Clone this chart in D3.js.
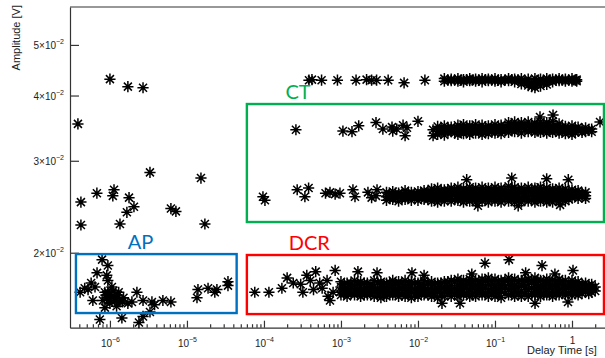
<!DOCTYPE html>
<html>
<head>
<meta charset="utf-8">
<script src="https://cdn.jsdelivr.net/npm/d3@7"></script>
<style>
  body { margin: 0; background: #fff; }
  svg { display: block; }
</style>
</head>
<body>
<div class="chart"></div>
<script>
// each row: [delay time (s), amplitude (V), amplitude, ...]
var sparsePts = [[1.0e-6,0.0430],[1.71e-6,0.0416],[2.69e-6,0.0414],[3.84e-7,0.0353],[3.31e-6,0.0285],
  [1.52e-5,0.0278],[6.77e-7,0.0260],[1.13e-6,0.0264],[1.09e-6,0.0257],[4.2e-7,0.0250],[1.77e-6,0.0255],
  [2.05e-6,0.0245],[1.66e-6,0.0239],[6.19e-6,0.0243],[7.19e-6,0.0240],[4.2e-7,0.0226],[1.35e-6,0.0227],
  [1.71e-5,0.0227]];

var apPts = [[7.9e-7,0.0194],[9.4e-7,0.0189],[6.8e-7,0.0183],[9.1e-7,0.0181],[5.7e-7,0.0175],[4.7e-7,0.0171],
  [4.1e-7,0.0168],[6.4e-7,0.0172],[1.06e-6,0.0172],[8.6e-7,0.0168],[9.1e-7,0.0164],[1.06e-6,0.0165],
  [1.16e-6,0.0162],[6.0e-7,0.0162],[1.35e-6,0.0161],[1.71e-6,0.0160],[2.24e-6,0.0168],[2.69e-6,0.0162],
  [1.93e-6,0.0161],[3.51e-6,0.0161],[4.87e-6,0.0162],[6.19e-6,0.0161],[8.6e-7,0.0157],[3.31e-6,0.0154],
  [2.69e-6,0.0151],[7.4e-7,0.0149],[1.43e-6,0.0150],[2.38e-6,0.0147],[1.35e-5,0.0164],[1.39e-5,0.0170],
  [1.88e-5,0.0171],[2.45e-5,0.0170],[3.41e-5,0.0176],[3.41e-5,0.0173],[9.4e-7,0.0168],[1.0e-6,0.0166],
  [1.27e-6,0.0166],[8.1e-7,0.0162],[1.0e-6,0.0160],[1.22e-6,0.0158],[1.5e-6,0.0164],[9.4e-7,0.0177],
  [5.2e-7,0.0170],[3.8e-6,0.0159],[2.3e-5,0.0168],[1.1e-6,0.0169],[1.2e-6,0.0163],[9.8e-7,0.0162],
  [1.3e-6,0.0168],[1.45e-6,0.0161],[8.9e-7,0.0166]];

var topBand = [[3.84e-4,0.0428],[4.2e-4,0.0429],[5.6e-4,0.0428],[9.0e-4,0.0428],[1.57e-3,0.0428],
  [2.15e-3,0.0429],[2.5e-3,0.0428],[2.9e-3,0.0428],[4.1e-3,0.0428],[6.6e-3,0.0423],[1.23e-2,0.0428],
  [2.2e-2,0.0431,0.0426],[2.7e-2,0.0430,0.0427],[3.3e-2,0.0431,0.0426],[3.9e-2,0.0429,0.0425],
  [4.7e-2,0.0431,0.0427],[5.6e-2,0.0430,0.0426],[6.8e-2,0.0431,0.0425],[8.2e-2,0.0430,0.0427],
  [0.10,0.0431,0.0426],[0.12,0.0429,0.0425],[0.15,0.0431,0.0427],[0.18,0.0430,0.0425],
  [0.22,0.0431,0.0426,0.0421],[0.27,0.0430,0.0424,0.0418],[0.33,0.0431,0.0425,0.0414],
  [0.39,0.0430,0.0424,0.0417],[0.47,0.0431,0.0426,0.0420],[0.56,0.0430,0.0425],[0.68,0.0431,0.0427],
  [0.82,0.0430,0.0426],[1.0,0.0431,0.0426],[1.15,0.0429,0.0426],
  [2.45e-2,0.0428],[3.0e-2,0.0428],[3.6e-2,0.0428],[4.3e-2,0.0429],[5.1e-2,0.0428],[6.2e-2,0.0428],
  [7.5e-2,0.0429],[9.1e-2,0.0428],[0.11,0.0428],[0.135,0.0428],[0.165,0.0429],[0.20,0.0428],
  [0.245,0.0424],[0.30,0.0421,0.0416],[0.36,0.0422],[0.43,0.0424],[0.51,0.0428],[0.62,0.0428],
  [0.75,0.0428],[0.91,0.0428],[1.1,0.0428]];

var ctUpper = [[2.6e-4,0.0344],[1.06e-3,0.0342],[1.39e-3,0.0341],[1.7e-3,0.0350],[2.85e-3,0.0355],
  [3.5e-3,0.0345],[4.6e-3,0.0348],[4.7e-3,0.0342],[5.3e-3,0.0345],[6.4e-3,0.0351],[6.8e-3,0.0335],
  [7.2e-3,0.0347],[1.0e-2,0.0357],[1.57e-2,0.0344],[1.57e-2,0.0335],
  [1.8e-2,0.0349,0.0342,0.0337],[2.2e-2,0.0350,0.0343,0.0336],[2.7e-2,0.0348,0.0341],
  [3.3e-2,0.0351,0.0344,0.0337],[3.9e-2,0.0352,0.0345,0.0338],[4.7e-2,0.0350,0.0343,0.0337],
  [5.6e-2,0.0352,0.0345,0.0339],[6.8e-2,0.0351,0.0344,0.0337],[8.2e-2,0.0350,0.0343,0.0338],
  [0.10,0.0352,0.0345,0.0339],[0.12,0.0351,0.0344,0.0338],[0.15,0.0355,0.0347,0.0340],
  [0.18,0.0356,0.0348,0.0341],[0.22,0.0355,0.0347,0.0339],[0.27,0.0356,0.0349,0.0341],
  [0.33,0.0354,0.0347,0.0340],[0.39,0.0356,0.0348,0.0340],[0.47,0.0355,0.0347,0.0339],
  [0.56,0.0357,0.0348,0.0340],[0.68,0.0353,0.0346,0.0339],[0.82,0.0349,0.0343,0.0338],
  [1.0,0.0350,0.0343,0.0337],[1.2,0.0348,0.0342],[1.5,0.0347,0.0341],[1.8,0.0345,0.0341],
  [0.384,0.0364],[0.567,0.0367],[2.31,0.0356],
  [2.0e-2,0.0346,0.0340],[2.45e-2,0.0347,0.0340],[3.0e-2,0.0346,0.0339],[3.6e-2,0.0348,0.0341],
  [4.3e-2,0.0347,0.0340],[5.1e-2,0.0348,0.0341],[6.2e-2,0.0347,0.0341],[7.5e-2,0.0348,0.0340],
  [9.1e-2,0.0347,0.0341],[0.11,0.0348,0.0341],[0.135,0.0350,0.0343],[0.165,0.0352,0.0344],
  [0.20,0.0351,0.0344],[0.245,0.0352,0.0344],[0.30,0.0351,0.0343],[0.36,0.0352,0.0344],
  [0.43,0.0351,0.0343],[0.51,0.0352,0.0344],[0.62,0.0350,0.0342],[0.75,0.0348,0.0341],
  [0.91,0.0346,0.0340],[1.1,0.0346,0.0340],[1.35,0.0345,0.0340],[1.65,0.0344]];

var ctLower = [[9.7e-5,0.0256],[1.03e-4,0.0252],[2.7e-4,0.0264],[3.8e-4,0.0266],[3.4e-4,0.0256],
  [6.3e-4,0.0260],[7.2e-4,0.0261],[8.4e-4,0.0259],[9.7e-4,0.0260],[1.43e-3,0.0264],[1.52e-3,0.0256],
  [2.24e-3,0.0261],[2.5e-3,0.0255],[2.94e-3,0.0264],[2.85e-3,0.0257],
  [3.9e-3,0.0261,0.0256,0.0252],[4.7e-3,0.0262,0.0257,0.0253],[5.6e-3,0.0260,0.0256,0.0251],
  [6.8e-3,0.0263,0.0258,0.0253],[8.2e-3,0.0261,0.0256,0.0252],[1.0e-2,0.0262,0.0257,0.0252],
  [1.2e-2,0.0263,0.0258,0.0253],[1.5e-2,0.0265,0.0260,0.0255,0.0251],[1.8e-2,0.0266,0.0261,0.0256,0.0250],
  [2.2e-2,0.0264,0.0260,0.0255,0.0251],[2.7e-2,0.0266,0.0261,0.0256,0.0251],[3.3e-2,0.0267,0.0262,0.0257,0.0252],
  [3.9e-2,0.0265,0.0260,0.0255,0.0250],[4.7e-2,0.0267,0.0262,0.0256,0.0251],[5.6e-2,0.0266,0.0261,0.0256,0.0250],
  [6.8e-2,0.0267,0.0262,0.0257,0.0251],[8.2e-2,0.0266,0.0261,0.0255,0.0250],[0.10,0.0267,0.0262,0.0256,0.0251],
  [0.12,0.0266,0.0261,0.0256,0.0250],[0.15,0.0268,0.0262,0.0257,0.0251],[0.18,0.0267,0.0261,0.0256,0.0250],
  [0.22,0.0266,0.0261,0.0255,0.0250],[0.27,0.0267,0.0262,0.0256,0.0251],[0.33,0.0266,0.0261,0.0256,0.0250],
  [0.39,0.0267,0.0262,0.0257,0.0251],[0.47,0.0266,0.0261,0.0256,0.0250],[0.56,0.0265,0.0260,0.0255,0.0250],
  [0.68,0.0266,0.0261,0.0256,0.0251],[0.82,0.0265,0.0260,0.0255,0.0251],[1.0,0.0264,0.0260,0.0255],
  [1.2,0.0263,0.0259,0.0254],[1.5,0.0261,0.0257,0.0254],
  [0.0429,0.0276],[0.165,0.0278],[0.469,0.0277],[0.895,0.0276],[0.06,0.0246],[0.2,0.0246],[0.7,0.0247],
  [4.3e-3,0.0259,0.0254],[5.1e-3,0.0260,0.0255],[6.2e-3,0.0259,0.0254],[7.5e-3,0.0260,0.0255],
  [9.1e-3,0.0259,0.0254],[1.1e-2,0.0260,0.0255],[1.35e-2,0.0262,0.0257,0.0253],[1.65e-2,0.0263,0.0258,0.0253],
  [2.0e-2,0.0263,0.0258,0.0253],[2.45e-2,0.0264,0.0259,0.0254],[3.0e-2,0.0264,0.0259,0.0253],
  [3.6e-2,0.0263,0.0258,0.0253],[4.3e-2,0.0264,0.0259,0.0254],[5.1e-2,0.0264,0.0258,0.0253],
  [6.2e-2,0.0264,0.0259,0.0254],[7.5e-2,0.0263,0.0258,0.0253],[9.1e-2,0.0264,0.0259,0.0254],
  [0.11,0.0264,0.0258,0.0253],[0.135,0.0264,0.0259,0.0254],[0.165,0.0265,0.0259,0.0253],
  [0.20,0.0264,0.0258,0.0253],[0.245,0.0264,0.0259,0.0254],[0.30,0.0264,0.0258,0.0253],
  [0.36,0.0265,0.0259,0.0254],[0.43,0.0264,0.0258,0.0253],[0.51,0.0263,0.0258,0.0253],
  [0.62,0.0264,0.0258,0.0253],[0.75,0.0263,0.0258,0.0253],[0.91,0.0262,0.0257,0.0253],
  [1.1,0.0262,0.0257],[1.35,0.0260,0.0256]];

var dcrBand = [[7.6e-5,0.0168],[1.16e-4,0.0168],[1.71e-4,0.0171],[2.0e-4,0.0179],[2.4e-4,0.0175],
  [3.6e-4,0.0181],[4.7e-4,0.0184],[5.3e-4,0.0175],[6.8e-4,0.0165],[8.4e-4,0.0185],[7.2e-4,0.0162],
  [3.0e-4,0.0174],[4.0e-4,0.0177],[4.4e-4,0.0170],[5.7e-4,0.0171],[6.6e-4,0.0177],[7.9e-4,0.0168],[3.2e-4,0.0168],
  [1.0e-3,0.0176,0.0172,0.0169,0.0166],[1.2e-3,0.0175,0.0171,0.0168,0.0165],[1.5e-3,0.0177,0.0173,0.0169,0.0166],
  [1.8e-3,0.0176,0.0172,0.0168,0.0165],[2.2e-3,0.0175,0.0171,0.0168,0.0166],[2.7e-3,0.0177,0.0172,0.0169,0.0165],
  [3.3e-3,0.0176,0.0172,0.0168,0.0164],[3.9e-3,0.0175,0.0171,0.0168,0.0165],[4.7e-3,0.0177,0.0173,0.0169,0.0166],
  [5.6e-3,0.0176,0.0172,0.0168,0.0165],[6.8e-3,0.0177,0.0172,0.0169,0.0165],[8.2e-3,0.0176,0.0172,0.0168,0.0164],
  [1.0e-2,0.0175,0.0171,0.0168,0.0165],[1.2e-2,0.0177,0.0173,0.0169,0.0166],[1.5e-2,0.0176,0.0172,0.0168,0.0165],
  [1.8e-2,0.0175,0.0171,0.0168,0.0164],[2.2e-2,0.0176,0.0172,0.0169,0.0165],[2.7e-2,0.0177,0.0173,0.0169,0.0165],
  [3.3e-2,0.0178,0.0173,0.0169,0.0165],[3.9e-2,0.0177,0.0173,0.0169,0.0166],[4.7e-2,0.0178,0.0174,0.0170,0.0165],
  [5.6e-2,0.0177,0.0173,0.0169,0.0165],[6.8e-2,0.0178,0.0174,0.0170,0.0166],[8.2e-2,0.0179,0.0174,0.0169,0.0165],
  [0.10,0.0178,0.0173,0.0169,0.0165],[0.12,0.0177,0.0173,0.0169,0.0164],[0.15,0.0179,0.0174,0.0170,0.0166],
  [0.18,0.0178,0.0173,0.0169,0.0165],[0.22,0.0177,0.0173,0.0169,0.0165],[0.27,0.0178,0.0174,0.0170,0.0165],
  [0.33,0.0179,0.0174,0.0170,0.0166],[0.39,0.0177,0.0173,0.0169,0.0165],[0.47,0.0178,0.0174,0.0170,0.0166],
  [0.56,0.0177,0.0173,0.0169,0.0165],[0.68,0.0178,0.0174,0.0170,0.0166],[0.82,0.0177,0.0173,0.0170,0.0166],
  [1.0,0.0177,0.0173,0.0170,0.0166],[1.2,0.0176,0.0172,0.0169,0.0166],[1.5,0.0175,0.0172,0.0169],
  [1.8,0.0174,0.0171,0.0168],[2.0,0.0172,0.0169],
  [1.66e-3,0.0184],[2.94e-3,0.0183],[8.35e-3,0.0183],[0.0741,0.0191],[0.152,0.0194],[0.408,0.0189],
  [1.03,0.0185],[0.0205,0.0160],[0.0351,0.0160],[0.331,0.0160],[0.887,0.0161],[0.012,0.0181],
  [0.05,0.0182],[0.25,0.0183],[0.6,0.0182],
  [1.1e-3,0.0174,0.0170,0.0167],[1.35e-3,0.0175,0.0171,0.0167],[1.65e-3,0.0174,0.0170,0.0167],
  [2.0e-3,0.0175,0.0170,0.0166],[2.45e-3,0.0174,0.0171,0.0167],[3.0e-3,0.0175,0.0170,0.0167],
  [3.6e-3,0.0174,0.0170,0.0166],[4.3e-3,0.0175,0.0171,0.0167],[5.1e-3,0.0174,0.0170,0.0167],
  [6.2e-3,0.0175,0.0171,0.0166],[7.5e-3,0.0174,0.0170,0.0167],[9.1e-3,0.0175,0.0170,0.0166],
  [1.1e-2,0.0174,0.0171,0.0167],[1.35e-2,0.0175,0.0170,0.0166],[1.65e-2,0.0174,0.0170,0.0167],
  [2.0e-2,0.0175,0.0171,0.0167],[2.45e-2,0.0176,0.0171,0.0167],[3.0e-2,0.0176,0.0171,0.0167],
  [3.6e-2,0.0175,0.0171,0.0167],[4.3e-2,0.0176,0.0172,0.0167],[5.1e-2,0.0176,0.0171,0.0167],
  [6.2e-2,0.0176,0.0172,0.0168],[7.5e-2,0.0177,0.0172,0.0167],[9.1e-2,0.0176,0.0171,0.0167],
  [0.11,0.0176,0.0171,0.0167],[0.135,0.0177,0.0172,0.0167],[0.165,0.0176,0.0171,0.0167],
  [0.20,0.0176,0.0172,0.0167],[0.245,0.0177,0.0172,0.0167],[0.30,0.0176,0.0171,0.0167],
  [0.36,0.0177,0.0172,0.0168],[0.43,0.0176,0.0171,0.0167],[0.51,0.0176,0.0172,0.0167],
  [0.62,0.0176,0.0171,0.0167],[0.75,0.0176,0.0172,0.0168],[0.91,0.0175,0.0171,0.0167],
  [1.1,0.0175,0.0171,0.0167],[1.35,0.0174,0.0170,0.0167],[1.65,0.0173,0.0170,0.0167]];

// highlighted regions, in data units
var regionNames = ["AP", "CT", "DCR"];
var regionColors = ["#0070c0", "#00b050", "#ff0000"];
var regionT = [[3.62e-7, 4.42e-5], [6.0e-5, 2.6], [6.0e-5, 2.6]];
var regionV = [[0.01533, 0.01988], [0.0229, 0.03853], [0.01526, 0.0198]];
var regionLabelT = [1.7e-6, 1.9e-4, 2.1e-4];

var xMajor = [1e-6, 1e-5, 1e-4, 1e-3, 1e-2, 1e-1, 1];
var yMajor = [0.02, 0.03, 0.04, 0.05];

var width = 605,
  height = 358;

var x = d3.scaleLog()
  .domain([3.03e-7, 4.2])
  .range([70, 620]);

var y = d3.scaleLog()
  .domain([0.01437, 0.0591])
  .range([327.7, 7]);

var svg = d3.select(".chart").append("svg")
  .attr("width", width)
  .attr("height", height)
  .style("font-family", "'Liberation Sans', Arial, sans-serif");

var axisColor = "#333";

// x axis: minor ticks then major ticks
var minorTicks = x.ticks().filter(function (d) {
  return xMajor.indexOf(d) < 0;
});

svg.append("g")
  .attr("transform", "translate(0,327.7)")
  .call(d3.axisBottom(x).tickValues(minorTicks).tickSize(-3.5).tickSizeOuter(0).tickFormat(""))
  .call(function (g) { g.select(".domain").remove(); });

var xAxis = svg.append("g")
  .attr("transform", "translate(0,327.7)")
  .call(d3.axisBottom(x).tickValues(xMajor).tickSize(-7).tickSizeOuter(0).tickFormat(""));

xAxis.selectAll(".tick").append("text")
  .attr("y", 19)
  .attr("fill", "#222")
  .attr("font-size", 10)
  .attr("text-anchor", "middle")
  .each(function (d) {
    var e = Math.round(Math.log10(d));
    var t = d3.select(this);
    if (e === 0) {
      t.attr("y", 16).text("1");
      return;
    }
    t.append("tspan").text("10");
    t.append("tspan").attr("dy", -5).attr("font-size", 7).text("\u2212" + Math.abs(e));
  });

var yAxis = svg.append("g")
  .attr("transform", "translate(70,0)")
  .call(d3.axisLeft(y).tickValues(yMajor).tickSize(-9).tickSizeOuter(0).tickFormat(""));

yAxis.selectAll(".tick").append("text")
  .attr("x", -6)
  .attr("y", 4)
  .attr("fill", "#222")
  .attr("font-size", 10)
  .attr("text-anchor", "end")
  .each(function (d) {
    var e = Math.floor(Math.log10(d) + 1e-9);
    var m = Math.round(d / Math.pow(10, e));
    var t = d3.select(this);
    t.append("tspan").text(m + "\u00d710");
    t.append("tspan").attr("dy", -5).attr("font-size", 7).text("\u2212" + Math.abs(e));
  });

svg.selectAll(".domain, .tick line")
  .attr("stroke", axisColor)
  .attr("stroke-width", 1.2);

// top frame line
svg.append("line")
  .attr("x1", x.range()[0]).attr("x2", x.range()[1])
  .attr("y1", y.range()[1]).attr("y2", y.range()[1])
  .attr("stroke", axisColor)
  .attr("stroke-width", 1.2);

// axis titles
svg.append("text")
  .attr("transform", "translate(20,5) rotate(-90)")
  .attr("text-anchor", "end")
  .attr("font-size", 11)
  .attr("fill", "#222")
  .text("Amplitude [V]");

svg.append("text")
  .attr("x", 527)
  .attr("y", 354)
  .attr("font-size", 11)
  .attr("fill", "#222")
  .text("Delay Time [s]");

// points as asterisks
var star = "M-5.6,0H5.6M0,-5.6V5.6M-4,-4L4,4M-4,4L4,-4";

function expand(rows) {
  var out = [];
  rows.forEach(function (r) {
    for (var i = 1; i < r.length; i++) out.push([r[0], r[i]]);
  });
  return out;
}

var allPts = [].concat(expand(sparsePts), expand(apPts), expand(topBand),
  expand(ctUpper), expand(ctLower), expand(dcrBand));

svg.append("g")
  .selectAll("path")
  .data(allPts)
  .enter().append("path")
  .attr("d", star)
  .attr("transform", function (d) { return "translate(" + x(d[0]) + "," + y(d[1]) + ")"; })
  .attr("fill", "none")
  .attr("stroke", "#000")
  .attr("stroke-width", 1.5);

// region boxes
var regions = svg.append("g")
  .selectAll("g")
  .data(regionNames)
  .enter().append("g");

regions.append("rect")
  .attr("x", function (d, i) { return x(regionT[i][0]); })
  .attr("y", function (d, i) { return y(regionV[i][1]); })
  .attr("width", function (d, i) { return x(regionT[i][1]) - x(regionT[i][0]); })
  .attr("height", function (d, i) { return y(regionV[i][0]) - y(regionV[i][1]); })
  .attr("fill", "none")
  .attr("stroke", function (d, i) { return regionColors[i]; })
  .attr("stroke-width", 2.4);

regions.append("text")
  .attr("x", function (d, i) { return x(regionLabelT[i]); })
  .attr("y", function (d, i) { return y(regionV[i][1]) - 5; })
  .attr("fill", function (d, i) { return regionColors[i]; })
  .attr("font-family", "Lato, 'Open Sans', sans-serif")
  .attr("font-size", 20)
  .text(function (d) { return d; });
</script>
</body>
</html>
